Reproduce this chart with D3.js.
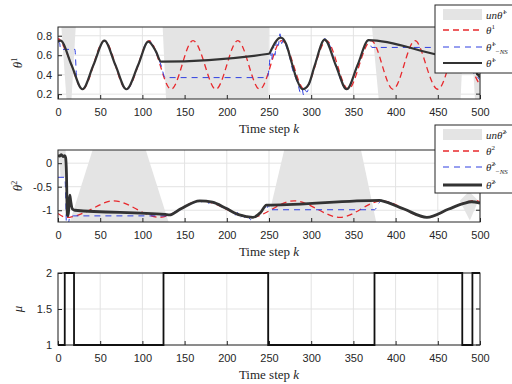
<!DOCTYPE html>
<html>
<head>
<meta charset="utf-8">
<script src="https://cdn.jsdelivr.net/npm/d3@7"></script>
<style>
  body { margin: 0; background: #fff; }
  svg text { font-family: 'Liberation Sans', Arial, sans-serif; fill: #262626; }
  .math { font-family: 'Liberation Serif', 'DejaVu Serif', serif; }
</style>
</head>
<body>
<svg id="chart" width="512" height="384"></svg>
<script>
// ---- data ----
const kTicks = [0, 50, 100, 150, 200, 250, 300, 350, 400, 450, 500];
const theta1Ticks = [0.2, 0.4, 0.6, 0.8];
const theta2Ticks = [-1, -0.5, 0];
const muTicks = [1, 1.5, 2];

// theta^1 : true parameter [k, value]
const theta1 = [[0,0.74],[3,0.75],[16,0.5],[29,0.25],[42,0.5],[55,0.75],[68,0.5],[81,0.25],[95,0.5],[108,0.75],
  [121,0.5],[134,0.25],[147,0.5],[160,0.75],[174,0.5],[187,0.25],[200,0.5],[213,0.75],[226,0.5],[239,0.25],
  [252,0.5],[265,0.75],[279,0.5],[292,0.25],[305,0.5],[318,0.75],[331,0.5],[344,0.25],[357,0.5],[371,0.75],
  [384,0.5],[397,0.25],[410,0.5],[423,0.75],[436,0.5],[450,0.25],[463,0.5],[476,0.75],[489,0.5],[500,0.29]];

// theta-hat^1 estimate
const theta1Hat = [[0,0.74],[3,0.75],[16,0.5],[29,0.25],[42,0.5],[55,0.75],[68,0.5],[81,0.25],[95,0.5],[107,0.74],
  [116,0.64],[122,0.535],[250,0.615],[253,0.66],[258,0.74],[264,0.78],[270,0.72],[277,0.52],[283,0.35],[290,0.25],
  [297,0.3],[304,0.49],[316,0.76],[329,0.5],[342,0.25],[355,0.5],[368,0.755],[447,0.61],[488,0.535],[493,0.46],[500,0.37]];

// theta-hat^1_{-NS}
const theta1NS = [[0,0.74],[2,0.72],[3,0.66],[20,0.66],[22,0.38],[26,0.27],[29,0.25],[42,0.5],[55,0.75],[68,0.5],
  [81,0.24],[95,0.5],[107,0.75],[116,0.63],[122,0.5],[127,0.37],[248,0.37],[250,0.46],[252,0.63],[253,0.55],
  [255,0.7],[257,0.6],[259,0.76],[261,0.7],[263,0.82],[265,0.72],[267,0.76],[270,0.7],[274,0.6],[278,0.45],
  [282,0.36],[285,0.28],[287,0.22],[289,0.26],[291,0.19],[293,0.24],[295,0.22],[298,0.31],[304,0.49],[310,0.66],
  [316,0.77],[322,0.7],[329,0.5],[342,0.25],[355,0.5],[368,0.75],[372,0.68],[488,0.68],[490,0.45],[494,0.4],[500,0.35]];

// uncertainty band of theta-hat^1 (polygons, [k, value])
const unTheta1 = [
  [[4,0.89],[21,0.89],[16,0.15],[10,0.15]],
  [[124,0.89],[250,0.89],[249,0.15],[128,0.15]],
  [[372,0.89],[481,0.89],[477,0.15],[380,0.15]],
  [[489,0.89],[500,0.89],[499,0.15],[494,0.15]]
];

// theta^2 : true parameter
const theta2 = [[0,-1.07],[14,-1.15],[40,-0.975],[66,-0.8],[93,-0.975],[120,-1.15],[145,-0.975],[170,-0.8],
  [199,-0.975],[228,-1.15],[254,-0.975],[280,-0.8],[307,-0.975],[334,-1.15],[359,-0.975],[384,-0.8],
  [410,-0.975],[437,-1.15],[463,-0.975],[490,-0.8],[500,-0.83]];

const theta2Hat = [[0,0.17],[2,0.15],[4,0.18],[6,0.14],[8,0.16],[9,0.12],[10,-0.2],[11,-1.1],[12,-1.12],[13,-0.9],
  [14,-0.68],[15,-0.8],[17,-0.97],[20,-1.0],[127,-1.09],[132,-1.1],[145,-0.975],[168,-0.8],[183,-0.83],[199,-0.96],
  [215,-1.1],[231,-1.15],[240,-1.05],[247,-0.89],[252,-0.89],[381,-0.79],[384,-0.8],[410,-0.975],[437,-1.15],
  [463,-0.975],[480,-0.86],[490,-0.82],[500,-0.85]];

const theta2NS = [[0,-0.3],[8,-0.3],[9,-0.6],[10,-1.3],[12,-1.3],[14,-1.14],[18,-1.12],[130,-1.12],[133,-1.08],
  [137,-1.07],[140,-1.0],[143,-1.02],[147,-0.95],[150,-0.93],[153,-0.9],[157,-0.87],[160,-0.84],[163,-0.85],
  [166,-0.79],[170,-0.82],[174,-0.8],[178,-0.85],[182,-0.83],[186,-0.88],[190,-0.86],[194,-0.93],[198,-0.91],
  [202,-0.99],[206,-1.02],[210,-1.1],[213,-1.05],[216,-1.16],[219,-1.1],[222,-1.18],[225,-1.12],[228,-1.2],
  [231,-1.13],[234,-1.15],[237,-1.08],[240,-1.05],[243,-0.98],[245,-0.92],[247,-1.0],[249,-0.88],[251,-0.99],
  [375,-0.99],[380,-0.85],[384,-0.8],[410,-0.975],[437,-1.15],[463,-0.975],[480,-0.86],[490,-0.82],[500,-0.85]];

const unTheta2 = [
  [[1,0.28],[9,0.28],[9,-0.3],[3,-0.3]],
  [[41,0.28],[104,0.28],[131,-1.25],[14,-1.25]],
  [[268,0.28],[359,0.28],[377,-1.25],[248,-1.25]],
  [[487,-0.6],[498,-0.8],[488,-1.22],[476,-0.8]]
];

// mode mu (step after)
const muSteps = [[0,1],[8,2],[19,1],[125,2],[249,1],[375,2],[479,1],[491,2],[500,2]];

// ---- drawing ----
const svg = d3.select('#chart');
const red = '#e8282c', blue = '#2f3fe0', dark = '#333333', shade = '#e4e4e4';

const x = d3.scaleLinear().domain([0, 500]).range([58, 480]);

function drawPanel(id, top, bottom, yDomain, yTicks, yFmt) {
  const y = d3.scaleLinear().domain(yDomain).range([bottom, top]);
  const g = svg.append('g').attr('id', id);

  svg.append('clipPath').attr('id', 'clip-' + id)
    .append('rect')
      .attr('x', x.range()[0]).attr('y', top)
      .attr('width', x.range()[1] - x.range()[0]).attr('height', bottom - top);

  // grid
  g.append('g').selectAll('line.vx').data(kTicks).enter().append('line')
    .attr('x1', d => x(d)).attr('x2', d => x(d)).attr('y1', top).attr('y2', bottom)
    .attr('stroke', '#e3e3e3');
  g.append('g').selectAll('line.hy').data(yTicks).enter().append('line')
    .attr('x1', x.range()[0]).attr('x2', x.range()[1]).attr('y1', d => y(d)).attr('y2', d => y(d))
    .attr('stroke', '#e3e3e3');

  const plot = g.append('g').attr('clip-path', 'url(#clip-' + id + ')');

  return { g, y, plot, top, bottom, yTicks, yFmt };
}

function finishPanel(p) {
  const g = p.g;
  const xAxis = d3.axisBottom(x).tickValues(kTicks).tickSizeInner(-4).tickSizeOuter(0).tickPadding(9);
  g.append('g')
    .attr('transform', 'translate(0,' + p.bottom + ')')
    .call(xAxis)
    .call(s => s.select('.domain').remove())
    .call(s => s.selectAll('line').attr('stroke', '#262626'))
    .call(s => s.selectAll('text').attr('font-size', 11).attr('fill', '#262626'));

  const yAxis = d3.axisLeft(p.y).tickValues(p.yTicks).tickSizeInner(-4).tickSizeOuter(0).tickPadding(6)
    .tickFormat(p.yFmt);
  g.append('g')
    .attr('transform', 'translate(' + x.range()[0] + ',0)')
    .call(yAxis)
    .call(s => s.select('.domain').remove())
    .call(s => s.selectAll('line').attr('stroke', '#262626'))
    .call(s => s.selectAll('text').attr('font-size', 11).attr('fill', '#262626'));

  // ticks on the right side
  g.append('g').selectAll('line').data(p.yTicks).enter().append('line')
    .attr('x1', x.range()[1]).attr('x2', x.range()[1] - 4)
    .attr('y1', d => p.y(d)).attr('y2', d => p.y(d))
    .attr('stroke', '#262626');

  g.append('rect')
    .attr('x', x.range()[0]).attr('y', p.top)
    .attr('width', x.range()[1] - x.range()[0]).attr('height', p.bottom - p.top)
    .attr('fill', 'none').attr('stroke', '#262626').attr('stroke-width', 1);

  // x label
  const xl = g.append('text').attr('class', 'math')
    .attr('x', (x.range()[0] + x.range()[1]) / 2).attr('y', p.bottom + 34)
    .attr('text-anchor', 'middle').attr('font-size', 13);
  xl.append('tspan').text('Time step ');
  xl.append('tspan').attr('font-style', 'italic').text('k');
}

function yLabel(p, sym, sup) {
  const t = p.g.append('text').attr('class', 'math')
    .attr('transform', 'translate(22,' + ((p.top + p.bottom) / 2) + ') rotate(-90)')
    .attr('text-anchor', 'middle').attr('font-size', 13).attr('font-style', 'italic');
  t.append('tspan').text(sym);
  if (sup) t.append('tspan').attr('font-size', 8).attr('dy', -5).attr('font-style', 'normal').text(sup);
}

const lineGen = (y, curve) => d3.line().x(d => x(d[0])).y(d => y(d[1])).curve(curve);

function drawSeries(p, band, truth, ns, est, estWidth) {
  p.plot.selectAll('path.band').data(band).enter().append('path')
    .attr('class', 'band')
    .attr('d', d => d3.line().x(v => x(v[0])).y(v => p.y(v[1]))(d) + 'Z')
    .attr('fill', shade);

  p.plot.append('path').datum(truth)
    .attr('d', lineGen(p.y, d3.curveNatural))
    .attr('fill', 'none').attr('stroke', red).attr('stroke-width', 1.3).attr('stroke-dasharray', '6,4');

  p.plot.append('path').datum(ns)
    .attr('d', lineGen(p.y, d3.curveMonotoneX))
    .attr('fill', 'none').attr('stroke', blue).attr('stroke-width', 1).attr('stroke-dasharray', '6,5');

  p.plot.append('path').datum(est)
    .attr('d', lineGen(p.y, d3.curveMonotoneX))
    .attr('fill', 'none').attr('stroke', dark).attr('stroke-width', estWidth).attr('stroke-linejoin', 'round');
}

function legend(x0, y0, h, rowsY, idx, estWidth) {
  const g = svg.append('g');
  g.append('rect').attr('x', x0).attr('y', y0).attr('width', 90).attr('height', h)
    .attr('fill', '#fff').attr('stroke', '#262626').attr('stroke-width', 1);
  const lx0 = x0 + 8, lx1 = x0 + 47, tx = x0 + 51;

  g.append('rect').attr('x', lx0).attr('y', y0 + rowsY[0] - 6).attr('width', lx1 - lx0).attr('height', 11)
    .attr('fill', shade);
  g.append('line').attr('x1', lx0).attr('x2', lx1).attr('y1', y0 + rowsY[1]).attr('y2', y0 + rowsY[1])
    .attr('stroke', red).attr('stroke-width', 1.3).attr('stroke-dasharray', '6,4');
  g.append('line').attr('x1', lx0).attr('x2', lx1).attr('y1', y0 + rowsY[2]).attr('y2', y0 + rowsY[2])
    .attr('stroke', blue).attr('stroke-width', 1).attr('stroke-dasharray', '6,5');
  g.append('line').attr('x1', lx0).attr('x2', lx1).attr('y1', y0 + rowsY[3]).attr('y2', y0 + rowsY[3])
    .attr('stroke', dark).attr('stroke-width', estWidth);

  const label = (row) => g.append('text').attr('class', 'math')
    .attr('x', tx).attr('y', y0 + rowsY[row] + 4).attr('font-size', 11).attr('font-style', 'italic');

  let t = label(0);
  t.append('tspan').text('unθ\u0302');
  t.append('tspan').attr('font-size', 7).attr('dy', -5).attr('font-style', 'normal').text(idx);

  t = label(1);
  t.append('tspan').text('θ');
  t.append('tspan').attr('font-size', 7).attr('dy', -5).attr('font-style', 'normal').text(idx);

  t = label(2);
  t.append('tspan').text('θ\u0302');
  t.append('tspan').attr('font-size', 7).attr('dy', -5).attr('font-style', 'normal').text(idx);
  t.append('tspan').attr('font-size', 7).attr('dy', 8).text('\u2212NS');

  t = label(3);
  t.append('tspan').text('θ\u0302');
  t.append('tspan').attr('font-size', 7).attr('dy', -5).attr('font-style', 'normal').text(idx);
}

// panel 1
const p1 = drawPanel('p1', 27, 99, [0.15, 0.89], theta1Ticks, d3.format('.1f'));
drawSeries(p1, unTheta1, theta1, theta1NS, theta1Hat, 2.2);
finishPanel(p1);
yLabel(p1, 'θ', '1');

// panel 2
const p2 = drawPanel('p2', 150, 222, [-1.25, 0.28], theta2Ticks, d => d === 0 ? '0' : d3.format('.1~f')(d).replace('\u2212', '-'));
drawSeries(p2, unTheta2, theta2, theta2NS, theta2Hat, 2.8);
finishPanel(p2);
yLabel(p2, 'θ', '2');

// panel 3 (mode line drawn on top of the box, unclipped)
const p3 = drawPanel('p3', 273, 345, [1, 2], muTicks, d => d3.format('.1~f')(d));
finishPanel(p3);
p3.g.append('path').datum(muSteps)
  .attr('d', lineGen(p3.y, d3.curveStepAfter))
  .attr('fill', 'none').attr('stroke', '#111').attr('stroke-width', 1.8);
yLabel(p3, 'μ', null);

legend(435, 5, 68, [10, 25, 42, 58], '1', 2.2);
legend(435, 125, 68, [10, 26, 42, 60], '2', 2.8);
</script>
</body>
</html>
